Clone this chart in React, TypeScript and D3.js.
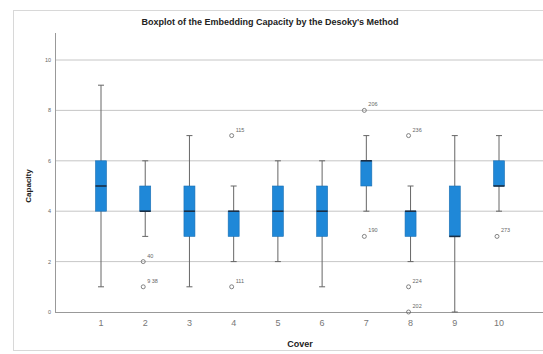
import React from "react";
import * as d3 from "d3";

const categories = ["1", "2", "3", "4", "5", "6", "7", "8", "9", "10"];
const whiskerLow = [1, 3, 1, 2, 2, 1, 4, 2, 0, 4];
const q1 = [4, 4, 3, 3, 3, 3, 5, 3, 3, 5];
const median = [5, 4, 4, 4, 4, 4, 6, 4, 3, 5];
const q3 = [6, 5, 5, 4, 5, 5, 6, 4, 5, 6];
const whiskerHigh = [9, 6, 7, 5, 6, 6, 7, 5, 7, 7];
const outlierCat = ["2", "2", "4", "4", "7", "7", "8", "8", "8", "10"];
const outlierVal = [2, 1, 7, 1, 8, 3, 7, 1, 0, 3];
const outlierLabel = ["40", "9 38", "115", "111", "206", "190", "236", "224", "202", "273"];
const yTicks = [0, 2, 4, 6, 8, 10];

export default function App() {
  const W = 543, H = 354;
  const right = 543, top = 33, bottom = 312;
  const x = d3.scalePoint().domain(categories).range([101, 499]);
  const y = d3.scaleLinear().domain([0, 10]).range([bottom, 60]);
  const cx = (c: string) => x(c) as number;
  const bw = 11;
  const cap = 6;
  const font = "Arial, 'Liberation Sans', sans-serif";
  return (
    <svg width={W} height={H} style={{ position: "absolute", left: 0, top: 0, background: "#fff" }} fontFamily={font}>
      <rect x={13.5} y={10.5} width={W} height={340} fill="none" stroke="#d8d8d8" />
      <text x={270} y={25} textAnchor="middle" fontSize={9} fontWeight="bold" fill="#222">
        Boxplot of the Embedding Capacity by the Desoky's Method
      </text>
      {yTicks.filter((t) => t > 0).map((t) => (
        <line key={"g" + t} x1={55} x2={right} y1={y(t)} y2={y(t)} stroke="#b8b8b8" strokeWidth={0.8} />
      ))}
      <line x1={55.5} x2={55.5} y1={top} y2={bottom} stroke="#999" strokeWidth={1} />
      <line x1={55} x2={right} y1={bottom + 0.5} y2={bottom + 0.5} stroke="#999" strokeWidth={1} />
      {yTicks.map((t) => (
        <text key={"yt" + t} x={51} y={y(t) + 2} textAnchor="end" fontSize={5.5} fill="#666">
          {t}
        </text>
      ))}
      {categories.map((c) => (
        <text key={"xt" + c} x={cx(c)} y={326} textAnchor="middle" fontSize={9} fill="#777">
          {c}
        </text>
      ))}
      <text x={300} y={347} textAnchor="middle" fontSize={9} fontWeight="bold" fill="#222">
        Cover
      </text>
      <text transform={`translate(31,186) rotate(-90)`} textAnchor="middle" fontSize={8} fontWeight="bold" fill="#222">
        Capacity
      </text>
      {categories.map((c, i) => {
        const m = cx(c);
        return (
          <g key={"b" + c}>
            <line x1={m} x2={m} y1={y(whiskerHigh[i])} y2={y(whiskerLow[i])} stroke="#666" strokeWidth={1} />
            <line x1={m - cap / 2} x2={m + cap / 2} y1={y(whiskerHigh[i])} y2={y(whiskerHigh[i])} stroke="#666" strokeWidth={1} />
            <line x1={m - cap / 2} x2={m + cap / 2} y1={y(whiskerLow[i])} y2={y(whiskerLow[i])} stroke="#666" strokeWidth={1} />
            <rect x={m - bw / 2} y={y(q3[i])} width={bw} height={Math.max(y(q1[i]) - y(q3[i]), 0)} fill="#1f88d8" stroke="#1a6fb3" strokeWidth={0.6} />
            <line x1={m - bw / 2} x2={m + bw / 2} y1={y(median[i])} y2={y(median[i])} stroke="#1b2f45" strokeWidth={1.6} />
          </g>
        );
      })}
      {outlierCat.map((c, i) => {
        const m = cx(c);
        const yy = y(outlierVal[i]);
        return (
          <g key={"o" + i}>
            <circle cx={m - 2} cy={yy} r={2} fill="none" stroke="#666" strokeWidth={0.8} />
            <text x={m + 2} y={yy - 4} fontSize={5.5} fill="#666">
              {outlierLabel[i]}
            </text>
          </g>
        );
      })}
    </svg>
  );
}
